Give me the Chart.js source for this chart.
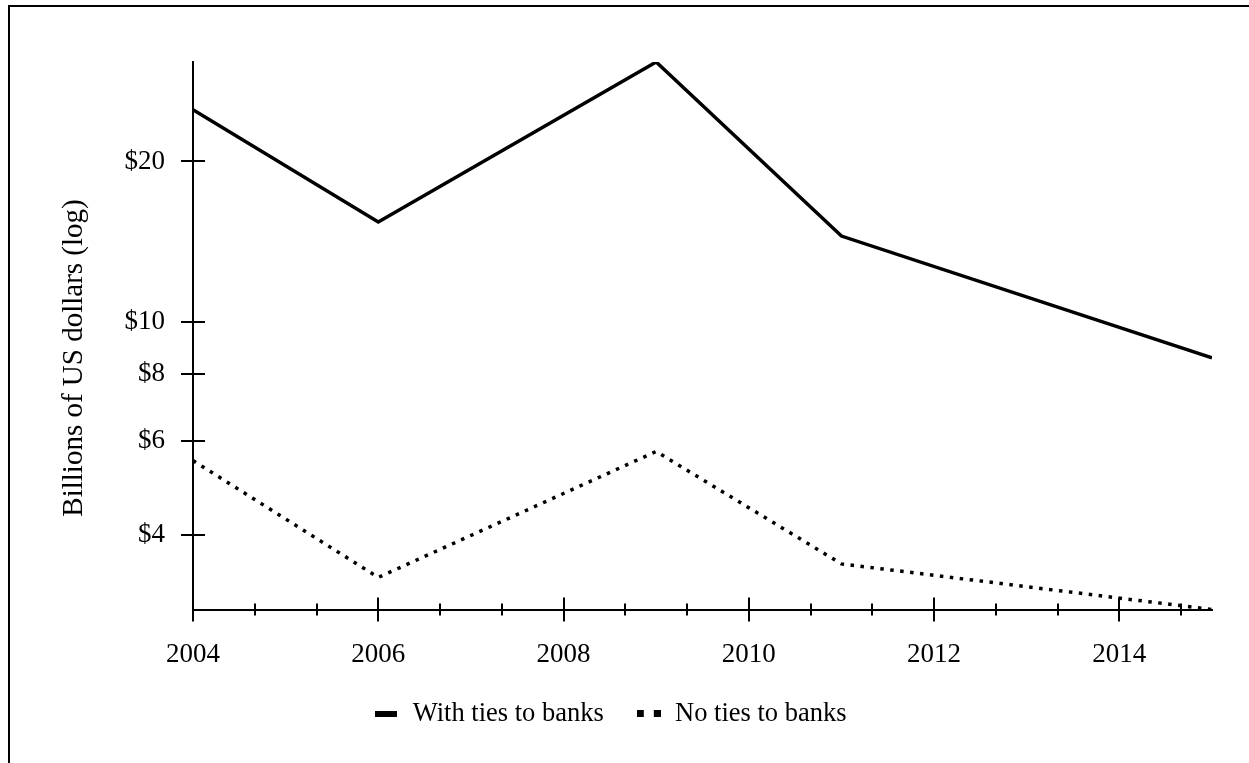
<!DOCTYPE html>
<html>
<head>
<meta charset="utf-8">
<script src="https://cdn.jsdelivr.net/npm/chart.js@4.4.1/dist/chart.umd.min.js"></script>
<style>
  html, body { margin: 0; padding: 0; background: #fff; }
  #wrap { width: 1249px; height: 763px; }
</style>
</head>
<body>
<div id="wrap"><canvas id="chart" width="1249" height="763"></canvas></div>
<script>
// values (billions of US dollars)
const years = [2004, 2006, 2009, 2011, 2015];
const withTies = [25.0, 15.4, 30.7, 14.5, 8.58];
const noTies = [5.51, 3.33, 5.73, 3.53, 2.90];
const yTickValues = [4, 6, 8, 10, 20];
const xLabelYears = [2004, 2006, 2008, 2010, 2012, 2014];
const xMinorStep = 2 / 3;
const seriesNames = ["With ties to banks", "No ties to banks"];
const yTitle = "Billions of US dollars (log)";

const FONT = '"Liberation Serif", "Times New Roman", serif';
Chart.defaults.font.family = FONT;
Chart.defaults.color = "#000";

function legendSwatch(kind) {
  const c = document.createElement("canvas");
  const g = c.getContext("2d");
  if (kind === "solid") {
    c.width = 22;
    c.height = 6;
    g.fillStyle = "#000";
    g.fillRect(0, 0, 22, 6);
  } else {
    c.width = 24;
    c.height = 7;
    g.fillStyle = "#000";
    g.fillRect(0, 0, 7, 7);
    g.fillRect(17, 0, 7, 7);
  }
  return c;
}

function toPoints(values) {
  return years.map(function (yr, i) {
    return { x: yr, y: values[i] };
  });
}

function isLabelYear(v) {
  return xLabelYears.some(function (y) {
    return Math.abs(y - v) < 1e-6;
  });
}

// frame, y title and the cross-axis tick marks
const decorations = {
  id: "decorations",
  beforeDraw: function (chart) {
    const ctx = chart.ctx;
    ctx.save();
    ctx.strokeStyle = "#000";
    ctx.lineWidth = 2;
    ctx.beginPath();
    ctx.moveTo(9, chart.height);
    ctx.lineTo(9, 6);
    ctx.lineTo(chart.width, 6);
    ctx.stroke();
    ctx.restore();
  },
  afterDraw: function (chart) {
    const ctx = chart.ctx;
    const xs = chart.scales.x;
    const ys = chart.scales.y;
    const area = chart.chartArea;
    ctx.save();
    ctx.strokeStyle = "#000";
    ctx.lineWidth = 2;
    ctx.beginPath();
    xs.ticks.forEach(function (t) {
      const px = Math.round(xs.getPixelForValue(t.value));
      const len = isLabelYear(t.value) ? 12 : 6;
      ctx.moveTo(px, area.bottom - len);
      ctx.lineTo(px, area.bottom + len);
    });
    ys.ticks.forEach(function (t) {
      const py = Math.round(ys.getPixelForValue(t.value));
      ctx.moveTo(area.left - 12, py);
      ctx.lineTo(area.left + 12, py);
    });
    ctx.stroke();

    ctx.translate(82, 358);
    ctx.rotate(-Math.PI / 2);
    ctx.fillStyle = "#000";
    ctx.font = "29px " + FONT;
    ctx.textAlign = "center";
    ctx.textBaseline = "alphabetic";
    ctx.fillText(yTitle, 0, 0);
    ctx.restore();
  },
};

new Chart(document.getElementById("chart"), {
  type: "line",
  data: {
    datasets: [
      {
        label: seriesNames[0],
        data: toPoints(withTies),
        borderColor: "#000",
        borderWidth: 3.5,
        pointRadius: 0,
        pointStyle: legendSwatch("solid"),
        tension: 0,
      },
      {
        label: seriesNames[1],
        data: toPoints(noTies),
        borderColor: "#000",
        borderWidth: 3.5,
        borderDash: [3.5, 6.5],
        borderCapStyle: "butt",
        pointRadius: 0,
        pointStyle: legendSwatch("dotted"),
        tension: 0,
      },
    ],
  },
  options: {
    responsive: false,
    animation: false,
    events: [],
    layout: { padding: { top: 62, right: 37, left: 8, bottom: 26 } },
    scales: {
      x: {
        type: "linear",
        min: years[0],
        max: years[years.length - 1],
        grid: { display: false, drawTicks: false },
        border: { display: true, color: "#000", width: 2 },
        afterBuildTicks: function (scale) {
          const ticks = [];
          for (let k = 0; years[0] + k * xMinorStep <= scale.max + 1e-6; k++) {
            ticks.push({ value: years[0] + k * xMinorStep });
          }
          scale.ticks = ticks;
        },
        afterFit: function (scale) {
          scale.height = 59;
        },
        ticks: {
          autoSkip: false,
          maxRotation: 0,
          padding: 29,
          font: { size: 27 },
          callback: function (value) {
            return isLabelYear(value) ? String(Math.round(value)) : "";
          },
        },
      },
      y: {
        type: "logarithmic",
        min: Math.min.apply(null, noTies),
        max: Math.max.apply(null, withTies),
        grid: { display: false, drawTicks: false },
        border: { display: true, color: "#000", width: 2 },
        afterBuildTicks: function (scale) {
          scale.ticks = yTickValues.map(function (v) {
            return { value: v };
          });
        },
        afterFit: function (scale) {
          scale.width = 185;
        },
        ticks: {
          padding: 28,
          font: { size: 27 },
          callback: function (value) {
            return "$" + value;
          },
        },
      },
    },
    plugins: {
      tooltip: { enabled: false },
      legend: {
        position: "bottom",
        labels: {
          usePointStyle: true,
          pointStyleWidth: 26,
          padding: 32,
          color: "#000",
          font: { size: 26.5 },
        },
      },
    },
  },
  plugins: [decorations],
});
</script>
</body>
</html>
